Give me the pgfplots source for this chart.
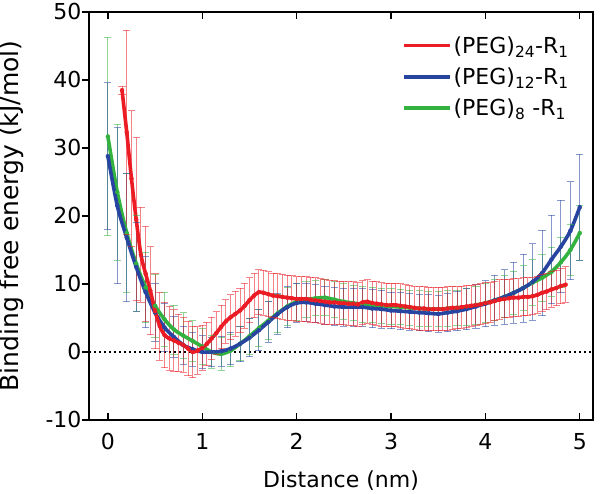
\documentclass[border=0pt]{standalone}
\usepackage{pgfplots}
\pgfplotsset{compat=1.18}
\usepackage{pgfplotstable}
\usepackage{fontspec}
\setmainfont{DejaVu Sans}
\definecolor{cred}{RGB}{235,28,36}
\definecolor{cblue}{RGB}{38,68,160}
\definecolor{cgreen}{RGB}{52,178,64}

\pgfplotstableread{
x y e
0.15 38.5 0.6
0.20 32.3 15
0.25 25.5 10
0.30 19.5 12
0.35 14.3 7
0.40 11.5 7
0.45 9.0 6.5
0.50 6.0 5.5
0.55 3.8 5
0.60 2.5 4.8
0.65 2.0 4.7
0.70 1.7 4.5
0.75 1.35 4.2
0.80 1.0 4
0.85 0.5 4
0.90 0.0 3.8
0.95 0.2 3.5
1.00 0.6 3.3
1.05 1.2 3.2
1.10 2.0 3.1
1.15 2.8 3.1
1.20 3.7 3.2
1.25 4.5 3.2
1.30 5.1 3.3
1.35 5.6 3.3
1.40 6.1 3.3
1.45 6.8 3.3
1.50 7.6 3.3
1.55 8.3 3.3
1.60 8.8 3.3
1.65 8.7 3.3
1.70 8.5 3.3
1.75 8.3 3.3
1.80 8.2 3.3
1.85 8.1 3.3
1.90 8.0 3.3
1.95 7.9 3.3
2.00 7.8 3.3
2.05 7.8 3.3
2.10 7.8 3.3
2.15 7.7 3.3
2.20 7.6 3.3
2.25 7.5 3.3
2.30 7.4 3.3
2.35 7.3 3.2
2.40 7.3 3.2
2.45 7.2 3.2
2.50 7.2 3.2
2.55 7.1 3.2
2.60 7.1 3.2
2.65 7.0 3.2
2.70 7.3 3.2
2.75 7.4 3.2
2.80 7.2 3.2
2.85 7.1 3.2
2.90 7.0 3.2
2.95 6.9 3.2
3.00 6.9 3.2
3.05 6.9 3.2
3.10 6.8 3.2
3.15 6.7 3.2
3.20 6.6 3.2
3.25 6.5 3.2
3.30 6.4 3.2
3.35 6.4 3.2
3.40 6.3 3.2
3.45 6.3 3.2
3.50 6.3 3.2
3.55 6.3 3.2
3.60 6.4 3.2
3.65 6.5 3.2
3.70 6.5 3.1
3.75 6.6 3.1
3.80 6.7 3.1
3.85 6.8 3.0
3.90 6.9 3.0
3.95 7.0 3.0
4.00 7.2 3.0
4.05 7.3 2.9
4.10 7.5 2.9
4.15 7.7 2.9
4.20 7.8 2.8
4.25 7.9 2.8
4.30 8.0 2.8
4.35 8.0 2.8
4.40 8.1 2.8
4.45 8.1 2.8
4.50 8.2 2.7
4.55 8.4 2.7
4.60 8.7 2.7
4.65 8.9 2.7
4.70 9.2 2.6
4.75 9.4 2.6
4.80 9.7 2.6
4.85 9.9 2.6
}\redtab

\pgfplotstableread{
x y e
0.0 28.8 10.8
0.1 21.5 11.5
0.2 16.8 9.4
0.3 12.5 6.5
0.4 8.8 5.2
0.5 5.8 4.2
0.6 3.6 3.5
0.7 2.2 3.0
0.8 1.0 2.8
0.9 0.4 2.5
1.0 0.0 2.4
1.1 0.0 2.2
1.2 0.1 2.2
1.3 0.5 2.4
1.4 1.2 2.6
1.5 2.1 2.8
1.6 3.2 3.0
1.7 4.4 3.0
1.8 5.6 3.0
1.9 6.6 3.0
2.0 7.2 2.8
2.1 7.3 2.8
2.2 7.1 2.8
2.3 6.9 2.8
2.4 6.7 2.8
2.5 6.6 2.8
2.6 6.6 2.8
2.7 6.6 2.8
2.8 6.4 2.8
2.9 6.3 2.8
3.0 6.1 2.7
3.1 6.0 2.7
3.2 5.9 2.7
3.3 5.8 2.7
3.4 5.7 2.7
3.5 5.6 2.7
3.6 5.8 2.8
3.7 6.0 2.9
3.8 6.3 3.0
3.9 6.7 3.2
4.0 7.1 3.4
4.1 7.6 3.7
4.2 8.1 4.0
4.3 8.7 4.5
4.4 9.4 5.0
4.5 10.3 5.6
4.6 11.6 6.3
4.7 13.6 6.5
4.8 15.5 6.8
4.9 17.8 7.2
5.0 21.3 7.8
}\bluetab

\pgfplotstableread{
x y e
0.0 31.7 14.6
0.1 23.5 10.0
0.2 17.5 8.8
0.3 13.0 7.0
0.4 9.5 5.2
0.5 6.8 4.6
0.6 4.8 4.0
0.7 3.3 3.6
0.8 2.4 3.4
0.9 1.6 3.0
1.0 0.8 2.6
1.1 0.0 2.4
1.2 -0.3 2.4
1.3 0.2 2.4
1.4 1.2 2.5
1.5 2.3 2.6
1.6 3.5 2.7
1.7 4.6 2.8
1.8 5.7 2.8
1.9 6.7 2.8
2.0 7.4 2.7
2.1 7.7 2.6
2.2 7.9 2.6
2.3 8.0 2.6
2.4 7.7 2.6
2.5 7.4 2.6
2.6 7.2 2.6
2.7 7.0 2.6
2.8 6.9 2.6
2.9 6.8 2.6
3.0 6.7 2.6
3.1 6.6 2.6
3.2 6.5 2.6
3.3 6.4 2.6
3.4 6.3 2.6
3.5 6.3 2.6
3.6 6.4 2.6
3.7 6.5 2.6
3.8 6.6 2.7
3.9 6.9 2.8
4.0 7.2 2.9
4.1 7.6 3.0
4.2 8.1 3.1
4.3 8.7 3.2
4.4 9.4 3.3
4.5 10.2 3.4
4.6 10.9 3.5
4.7 11.8 3.6
4.8 13.2 3.7
4.9 15.0 3.8
5.0 17.5 4.0
}\greentab

\begin{document}
\begin{tikzpicture}
\pgfplotsset{
  commonaxis/.style={
    scale only axis,
    width=504bp, height=408bp,
    xmin=-0.2, xmax=5.14,
    ymin=-10, ymax=50,
    axis line style={line width=1.3bp},
    /pgf/number format/assume math mode=true,
  },
  ebar/.style={forget plot, #1, only marks, mark=none,
    error bars/.cd, y dir=both, y explicit, error mark=none,
    error bar style={draw=#1, draw opacity=0.55, line width=1bp}},
  ecap/.style={forget plot, only marks, mark=-, mark size=3.6bp,
    mark options={draw=#1, draw opacity=0.55, line width=1bp}},
}
\begin{axis}[
  name=main,
  commonaxis,
  xtick={0,1,2,3,4,5},
  ytick={-10,0,10,20,30,40,50},
  yticklabels={-10,0,10,20,30,40,50},
  xtick pos=both,
  ytick pos=left,
  xtick align=inside,
  ytick align=outside,
  major tick length=7bp,
  tick style={line width=1.3bp, black},
  tick label style={font=\fontsize{22bp}{26bp}\selectfont},
  xlabel style={font=\fontsize{22bp}{26bp}\selectfont},
  ylabel style={font=\fontsize{25bp}{30bp}\selectfont},
  xlabel={Distance (nm)},
  ylabel={Binding free energy (kJ/mol)},
  xlabel shift=14bp,
  ylabel shift=15bp,
  xticklabel style={yshift=-10bp},
  yticklabel style={xshift=3bp},
  legend style={at={(0.615,0.95)}, anchor=north west, draw=none, fill=none,
    font=\fontsize{22bp}{26bp}\selectfont, row sep=9bp,
    /tikz/every even column/.append style={column sep=14bp}},
  legend cell align=left,
  legend image code/.code={\draw[#1, line width=3.5bp] (0bp,0bp) -- (46bp,0bp);},
]
% zero line
\addplot[forget plot, black, line width=1.8bp, dash pattern=on 1.8bp off 3.2bp] coordinates {(-0.2,0) (5.14,0)};
% error bars
\addplot[ebar=cgreen] table[x=x, y=y, y error=e]{\greentab};
\addplot[ecap=cgreen] table[x=x, y expr=\thisrow{y}+\thisrow{e}]{\greentab};
\addplot[ecap=cgreen] table[x=x, y expr=\thisrow{y}-\thisrow{e}]{\greentab};
\addplot[ebar=cblue] table[x=x, y=y, y error=e]{\bluetab};
\addplot[ecap=cblue] table[x=x, y expr=\thisrow{y}+\thisrow{e}]{\bluetab};
\addplot[ecap=cblue] table[x=x, y expr=\thisrow{y}-\thisrow{e}]{\bluetab};
\addplot[ebar=cred] table[x=x, y=y, y error=e]{\redtab};
\addplot[ecap=cred] table[x=x, y expr=\thisrow{y}+\thisrow{e}]{\redtab};
\addplot[ecap=cred] table[x=x, y expr=\thisrow{y}-\thisrow{e}]{\redtab};
% lines
\addplot[cgreen, line width=3.6bp, smooth, tension=0.5, forget plot] table[x=x, y=y]{\greentab};
\addplot[cblue, line width=3.6bp, smooth, tension=0.5, forget plot] table[x=x, y=y]{\bluetab};
\addplot[cred, line width=3.6bp, smooth, tension=0.5, forget plot] table[x=x, y=y]{\redtab};
% legend entries
\addlegendimage{cred}
\addlegendentry{(PEG)\textsubscript{24}-R\textsubscript{1}}
\addlegendimage{cblue}
\addlegendentry{(PEG)\textsubscript{12}-R\textsubscript{1}}
\addlegendimage{cgreen}
\addlegendentry{(PEG)\textsubscript{8} -R\textsubscript{1}}
\end{axis}
\begin{axis}[
  commonaxis,
  axis lines=none,
  xtick=\empty,
  ytick={-10,0,10,20,30,40,50},
  ytick pos=right,
  ytick align=inside,
  yticklabels={},
  major tick length=7bp,
  tick style={line width=1.3bp, black},
]
\addplot[draw=none] coordinates {(0,0)};
\end{axis}
\pgfresetboundingbox
\path ([xshift=-89bp,yshift=-74bp]main.south west) rectangle ([xshift=7bp,yshift=12bp]main.north east);
\end{tikzpicture}
\end{document}
